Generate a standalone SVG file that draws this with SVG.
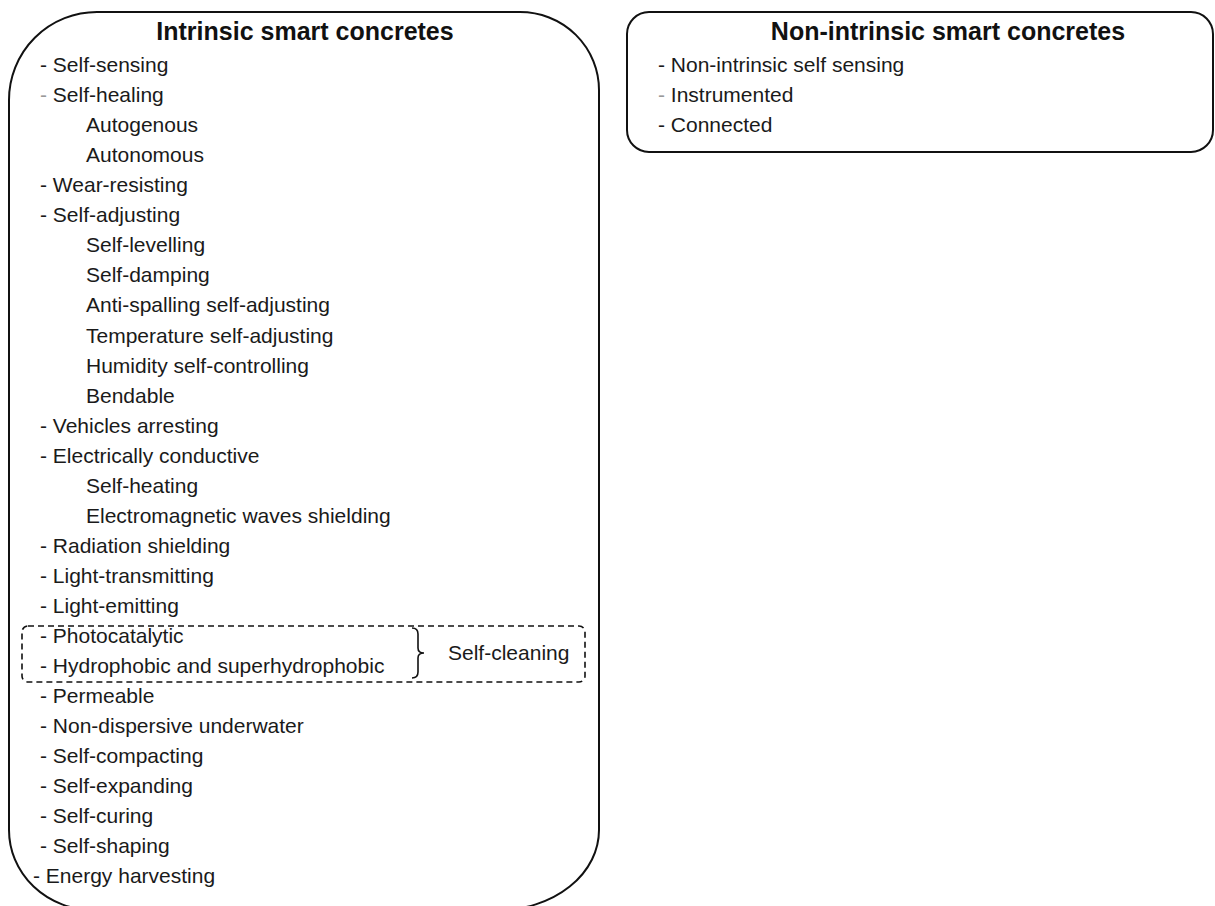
<svg xmlns="http://www.w3.org/2000/svg" width="1215" height="906" viewBox="0 0 1215 906">
<style>
.box{fill:#fff;stroke:#111;stroke-width:2}
.title{font-family:"Liberation Sans",Arial,sans-serif;font-weight:bold;font-size:25px;fill:#111}
.item{font-family:"Liberation Sans",Arial,sans-serif;font-size:21px;fill:#1a1a1a}
.gray{fill:#999}
.dash{fill:none;stroke:#111;stroke-width:1.6;stroke-dasharray:6 4}
.brace{fill:none;stroke:#111;stroke-width:1.6}
</style>
<rect width="1215" height="906" fill="#fff"/>
<g id="intrinsic">
<path class="box" d="M97,12 L520,12 A79,78 0 0 1 599,90 L599,830 A100,80 0 0 1 499,910 L93,910 A84,80 0 0 1 9,830 L9,100 A88,88 0 0 1 97,12 Z"/>
<text class="title" x="305" y="40" text-anchor="middle">Intrinsic smart concretes</text>
<text class="item" x="40" y="72">- Self-sensing</text>
<text class="item" x="40" y="102"><tspan class="gray">-</tspan> Self-healing</text>
<text class="item" x="86" y="132.1">Autogenous</text>
<text class="item" x="86" y="162.2">Autonomous</text>
<text class="item" x="40" y="192.2">- Wear-resisting</text>
<text class="item" x="40" y="222.3">- Self-adjusting</text>
<text class="item" x="86" y="252.3">Self-levelling</text>
<text class="item" x="86" y="282.4">Self-damping</text>
<text class="item" x="86" y="312.4">Anti-spalling self-adjusting</text>
<text class="item" x="86" y="342.5">Temperature self-adjusting</text>
<text class="item" x="86" y="372.5">Humidity self-controlling</text>
<text class="item" x="86" y="402.6">Bendable</text>
<text class="item" x="40" y="432.6">- Vehicles arresting</text>
<text class="item" x="40" y="462.7">- Electrically conductive</text>
<text class="item" x="86" y="492.7">Self-heating</text>
<text class="item" x="86" y="522.8">Electromagnetic waves shielding</text>
<text class="item" x="40" y="552.8">- Radiation shielding</text>
<text class="item" x="40" y="582.9">- Light-transmitting</text>
<text class="item" x="40" y="612.9">- Light-emitting</text>
<text class="item" x="40" y="643">- Photocatalytic</text>
<text class="item" x="40" y="673">- Hydrophobic and superhydrophobic</text>
<text class="item" x="40" y="703.1">- Permeable</text>
<text class="item" x="40" y="733.1">- Non-dispersive underwater</text>
<text class="item" x="40" y="763.2">- Self-compacting</text>
<text class="item" x="40" y="793.2">- Self-expanding</text>
<text class="item" x="40" y="823.3">- Self-curing</text>
<text class="item" x="40" y="853.3">- Self-shaping</text>
<text class="item" x="33" y="883.4">- Energy harvesting</text>
</g>
<g id="self-cleaning">
<rect class="dash" x="22" y="626" width="563" height="56" rx="6"/>
<text class="item" x="448" y="660">Self-cleaning</text>
</g>
<g id="connectors">
<path class="brace" d="M412,628 Q418,628 418,634 L418,648 Q418,653 424,653 Q418,653 418,658 L418,672 Q418,678 412,678"/>
</g>
<g id="non-intrinsic">
<rect class="box" x="627" y="12" width="586" height="140" rx="22"/>
<text class="title" x="948" y="40" text-anchor="middle">Non-intrinsic smart concretes</text>
<text class="item" x="658" y="72">- Non-intrinsic self sensing</text>
<text class="item" x="658" y="102"><tspan class="gray">-</tspan> Instrumented</text>
<text class="item" x="658" y="132.1">- Connected</text>
</g>
</svg>
